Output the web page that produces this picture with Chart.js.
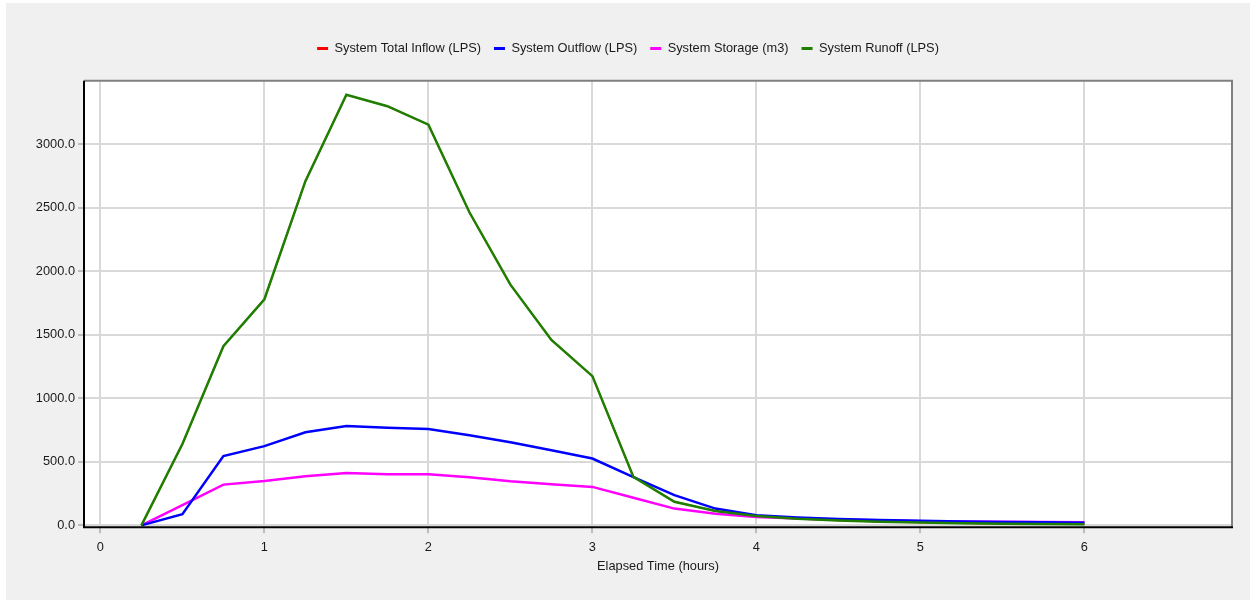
<!DOCTYPE html>
<html>
<head>
<meta charset="utf-8">
<script src="https://cdn.jsdelivr.net/npm/chart.js@4.4.1/dist/chart.umd.min.js"></script>
<style>
	html, body { margin: 0; padding: 0; background: #ffffff; }
	#wrap { width: 1252px; height: 600px; }
</style>
</head>
<body>
<div id="wrap"><canvas id="chart" width="1252" height="600"></canvas></div>
<script>
// elapsed time in hours, one reading every 15 min
var hours = [0.25, 0.5, 0.75, 1.0, 1.25, 1.5, 1.75, 2.0, 2.25, 2.5, 2.75, 3.0, 3.25, 3.5, 3.75, 4.0,
	4.25, 4.5, 4.75, 5.0, 5.25, 5.5, 5.75, 6.0];

var total_inflow = [0, 640, 1410, 1780, 2710, 3390, 3300, 3155, 2465, 1895, 1460, 1175, 382, 186, 113, 74,
	52, 38, 28, 22, 17, 13, 10, 8];
var outflow = [0, 88, 545, 624, 733, 782, 768, 758, 710, 655, 592, 526, 380, 238, 132, 80,
	62, 50, 42, 36, 31, 27, 24, 21];
var storage = [0, 160, 321, 350, 387, 413, 402, 403, 379, 347, 324, 303, 218, 132, 92, 66,
	55, 45, 40, 33, 30, 28, 26, 24];
var runoff = [0, 640, 1410, 1780, 2710, 3390, 3300, 3155, 2465, 1895, 1460, 1175, 382, 186, 113, 74,
	52, 38, 28, 22, 17, 13, 10, 8];

var x_ticks = [0, 1, 2, 3, 4, 5, 6];
var y_ticks = [0, 500, 1000, 1500, 2000, 2500, 3000];

function points(values) {
	return hours.map(function(h, i) { return { x: h, y: values[i] }; });
}

// grey panel behind everything, white plot area, grey top/right frame
var frame_plugin = {
	id: 'frame',
	beforeInit: function(chart) {
		// more room between legend and plot
		var fit = chart.legend.fit;
		chart.legend.fit = function() {
			fit.bind(chart.legend)();
			this.height += 16;
		};
	},
	afterLayout: function(chart) {
		// legend sits a little right of centre
		chart.legend.left += 12;
		chart.legend.right += 12;
	},
	beforeDraw: function(chart) {
		var ctx = chart.ctx, a = chart.chartArea;
		ctx.save();
		ctx.fillStyle = '#ffffff';
		ctx.fillRect(0, 0, chart.width, chart.height);
		ctx.fillStyle = '#f0f0f0';
		ctx.fillRect(6, 3, 1244, 597);
		ctx.fillStyle = '#ffffff';
		ctx.fillRect(a.left, a.top, a.right - a.left, a.bottom - a.top);
		ctx.restore();
	},
	afterDraw: function(chart) {
		var ctx = chart.ctx, a = chart.chartArea;
		ctx.save();
		ctx.strokeStyle = '#808080';
		ctx.lineWidth = 2;
		ctx.beginPath();
		ctx.moveTo(a.left, a.top);
		ctx.lineTo(a.right, a.top);
		ctx.lineTo(a.right, a.bottom);
		ctx.stroke();
		ctx.strokeStyle = '#000000';
		ctx.beginPath();
		ctx.moveTo(a.left, a.top);
		ctx.lineTo(a.left, a.bottom);
		ctx.lineTo(a.right + 1, a.bottom);
		ctx.stroke();
		ctx.restore();
	}
};

var font_family = '"Liberation Sans", Arial, sans-serif';
var font_size = 12.8;

var chart = new Chart(document.getElementById('chart'), {
	type: 'line',
	data: {
		datasets: [
			{ label: 'System Total Inflow (LPS)', data: points(total_inflow), borderColor: '#ff0000', backgroundColor: '#ff0000', borderWidth: 1.5, order: 4 },
			{ label: 'System Outflow (LPS)', data: points(outflow), borderColor: '#0000ff', backgroundColor: '#0000ff', order: 2 },
			{ label: 'System Storage (m3)', data: points(storage), borderColor: '#ff00ff', backgroundColor: '#ff00ff', order: 3 },
			{ label: 'System Runoff (LPS)', data: points(runoff), borderColor: '#1f7f00', backgroundColor: '#1f7f00', order: 1 }
		]
	},
	options: {
		responsive: false,
		animation: false,
		layout: { padding: { left: 0, right: 20, top: 29, bottom: 26 } },
		elements: {
			point: { radius: 0 },
			line: { borderWidth: 2.5, tension: 0 }
		},
		plugins: {
			tooltip: { enabled: false },
			legend: {
				position: 'top',
				labels: {
					boxWidth: 11,
					boxHeight: 3,
					padding: 13,
					color: '#1a1a1a',
					font: { family: font_family, size: font_size },
					sort: function(a, b) { return a.datasetIndex - b.datasetIndex; },
					generateLabels: function(chart) {
						return chart.data.datasets.map(function(ds, i) {
							return {
								text: ds.label,
								fillStyle: ds.borderColor,
								strokeStyle: ds.borderColor,
								lineWidth: 0,
								fontColor: '#1a1a1a',
								hidden: false,
								datasetIndex: i
							};
						});
					}
				}
			}
		},
		scales: {
			x: {
				type: 'linear',
				min: -0.1,
				max: 6.9,
				afterBuildTicks: function(scale) {
					scale.ticks = x_ticks.map(function(v) { return { value: v }; });
				},
				grid: { color: '#d9d9d9', lineWidth: 2, tickLength: 6, tickColor: '#bdbdbd' },
				border: { display: false },
				ticks: {
					color: '#1a1a1a',
					padding: 7,
					maxRotation: 0,
					font: { family: font_family, size: font_size },
					callback: function(v) { return v; }
				},
				title: {
					display: true,
					text: 'Elapsed Time (hours)',
					color: '#1a1a1a',
					padding: { top: -4, bottom: 0 },
					font: { family: font_family, size: font_size }
				}
			},
			y: {
				type: 'linear',
				min: -15,
				max: 3500,
				afterBuildTicks: function(scale) {
					scale.ticks = y_ticks.map(function(v) { return { value: v }; });
				},
				afterFit: function(scale) { scale.width = 84; },
				grid: { color: '#d9d9d9', lineWidth: 2, tickLength: 6, tickColor: '#bdbdbd' },
				border: { display: false },
				ticks: {
					color: '#1a1a1a',
					padding: 3,
					font: { family: font_family, size: font_size },
					callback: function(v) { return v.toFixed(1); }
				}
			}
		}
	},
	plugins: [frame_plugin]
});
</script>
</body>
</html>
